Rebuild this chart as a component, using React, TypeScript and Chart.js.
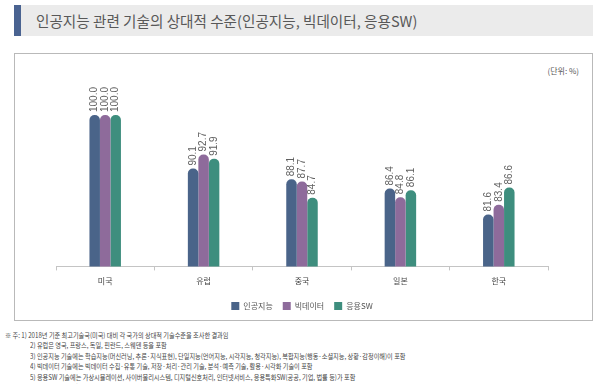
import React, { useEffect, useRef } from "react";
import { Chart, registerables } from "chart.js";

Chart.register(...registerables);

const categories = ["미국", "유럽", "중국", "일본", "한국"];
const seriesNames = ["인공지능", "빅데이터", "응용SW"];
const aiValues = [100.0, 90.1, 88.1, 86.4, 81.6];
const bigDataValues = [100.0, 92.7, 87.7, 84.8, 83.4];
const appSwValues = [100.0, 91.9, 84.7, 86.1, 86.6];
const seriesColors = ["#4a6489", "#8e6b9b", "#3e8e7e"];

const titleText = "인공지능 관련 기술의 상대적 수준(인공지능, 빅데이터, 응용SW)";
const unitText = "(단위: %)";
const noteLines = [
  "※ 주: 1) 2018년 기준 최고기술국(미국) 대비 각 국가의 상대적 기술수준을 조사한 결과임",
  "2) 유럽은 영국, 프랑스, 독일, 핀란드, 스웨덴 등을 포함",
  "3) 인공지능 기술에는 학습지능(머신러닝, 추론·지식표현), 단일지능(언어지능, 시각지능, 청각지능), 복합지능(행동·소셜지능, 상황·감정이해)이 포함",
  "4) 빅데이터 기술에는 빅데이터 수집·유통 기술, 저장·처리·관리 기술, 분석·예측 기술, 활용·시각화 기술이 포함",
  "5) 응용SW 기술에는 가상시뮬레이션, 사이버물리시스템, 디지털신호처리, 인터넷서비스, 응용특화SW(공공, 기업, 법률 등)가 포함",
  "※ 자료: 정보통신기획평가원(2019), 「2018년도 ICT 기술수준조사 보고서」",
];

const KR = '"Noto Sans CJK KR", "Noto Sans", sans-serif';

const valueLabelPlugin = {
  id: "valueLabels",
  afterDatasetsDraw(chart: any) {
    const ctx = chart.ctx;
    ctx.save();
    ctx.font = '10px "Liberation Sans", Arial, sans-serif';
    ctx.fillStyle = "#606060";
    ctx.textAlign = "left";
    ctx.textBaseline = "middle";
    chart.data.datasets.forEach((ds: any, i: number) => {
      const meta = chart.getDatasetMeta(i);
      meta.data.forEach((bar: any, j: number) => {
        const v = ds.data[j] as number;
        ctx.save();
        ctx.translate(bar.x, bar.y - 3);
        ctx.rotate(-Math.PI / 2);
        ctx.fillText(v.toFixed(1), 0, 0);
        ctx.restore();
      });
    });
    ctx.restore();
  },
};

export default function App() {
  const canvasRef = useRef<HTMLCanvasElement | null>(null);

  useEffect(() => {
    if (!canvasRef.current) return;
    const chart = new Chart(canvasRef.current, {
      type: "bar",
      data: {
        labels: categories,
        datasets: [aiValues, bigDataValues, appSwValues].map((d, i) => ({
          label: seriesNames[i],
          data: d,
          backgroundColor: seriesColors[i],
          borderRadius: 5,
          borderSkipped: "start" as const,
          categoryPercentage: 0.32,
          barPercentage: 1.0,
        })),
      },
      options: {
        responsive: false,
        animation: false,
        layout: { padding: { left: 42, right: 45, top: 35, bottom: 1 } },
        plugins: {
          legend: {
            position: "bottom",
            labels: {
              boxWidth: 8,
              boxHeight: 8,
              padding: 10,
              color: "#555",
              font: { family: KR, size: 8 },
            },
          },
          tooltip: { enabled: false },
        },
        scales: {
          x: {
            grid: {
              display: true,
              drawOnChartArea: false,
              drawTicks: true,
              tickLength: 4,
              color: "#c4c4c4",
              offset: true,
            },
            border: { display: true, color: "#c4c4c4" },
            ticks: {
              color: "#444",
              padding: 6,
              font: { family: KR, size: 8 },
            },
          },
          y: {
            display: false,
            min: 72,
            max: 105,
          },
        },
      },
      plugins: [valueLabelPlugin],
    });
    return () => chart.destroy();
  }, []);

  return (
    <div
      style={{
        position: "absolute",
        left: 0,
        top: 0,
        width: 600,
        height: 384,
        overflow: "hidden",
        background: "#fff",
        fontFamily: KR,
      }}
    >
      <div
        style={{
          position: "absolute",
          left: 14,
          top: 5,
          width: 579,
          height: 31,
          background: "#ebebeb",
        }}
      />
      <div
        style={{
          position: "absolute",
          left: 14,
          top: 5,
          width: 7,
          height: 31,
          background: "#4a6391",
        }}
      />
      <div
        style={{
          position: "absolute",
          left: 36,
          top: 5,
          height: 31,
          lineHeight: "31px",
          fontSize: 14.6,
          color: "#585858",
          whiteSpace: "nowrap",
        }}
      >
        {titleText}
      </div>
      <div
        style={{
          position: "absolute",
          left: 14,
          top: 53,
          width: 579,
          height: 268,
          boxSizing: "border-box",
          border: "1px solid #b9b9b9",
        }}
      />
      <div
        style={{
          position: "absolute",
          right: 600 - 579,
          top: 65,
          fontSize: 8,
          lineHeight: "12px",
          color: "#555",
          whiteSpace: "nowrap",
        }}
      >
        {unitText}
      </div>
      <canvas
        ref={canvasRef}
        width={579}
        height={268}
        style={{ position: "absolute", left: 14, top: 53, width: 579, height: 268 }}
      />
      {noteLines.map((line, i) => (
        <div
          key={i}
          style={{
            position: "absolute",
            left: i === 0 || i === 5 ? 5 : 30,
            top: 330 + i * 10.4,
            fontSize: 7,
            lineHeight: "10px",
            color: "#444",
            whiteSpace: "nowrap",
            transform: "scaleX(0.88)",
            transformOrigin: "left center",
          }}
        >
          {line}
        </div>
      ))}
    </div>
  );
}
